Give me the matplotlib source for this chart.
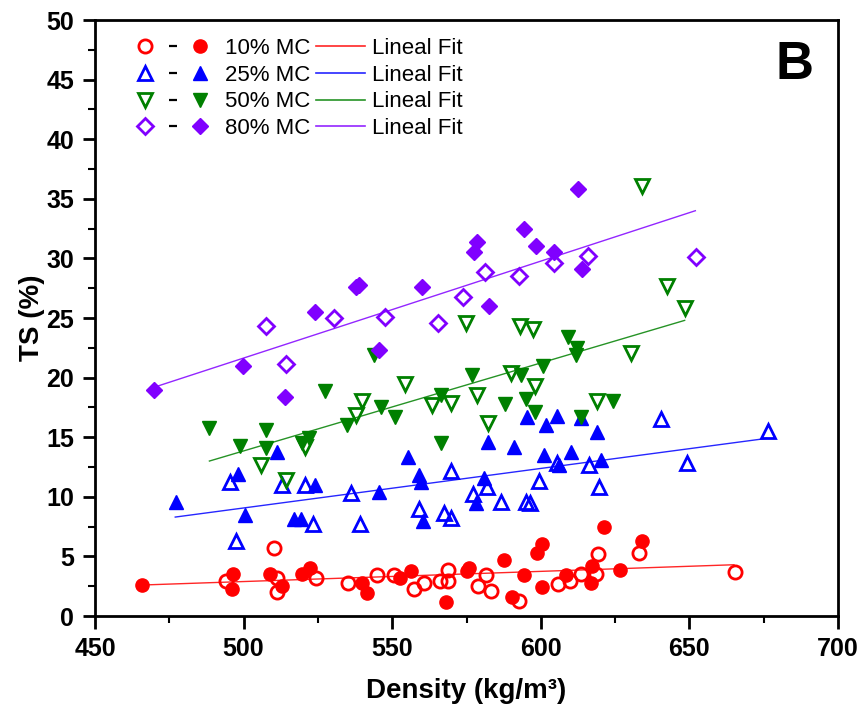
import matplotlib
matplotlib.use('Agg')
import matplotlib.pyplot as plt
from matplotlib.lines import Line2D
from matplotlib.legend_handler import HandlerTuple
from matplotlib.ticker import MultipleLocator

plt.rcParams['font.family'] = ['Liberation Sans', 'DejaVu Sans']

# 10% MC
mc10_open_d = [494.2, 510.1, 511.1, 511.1, 524.2, 535.0, 544.8, 550.5, 557.3, 560.7, 566.1, 568.8,
               568.8, 578.9, 581.6, 583.3, 592.7, 605.9, 609.9, 613.6, 618.7, 619.4, 632.9, 665.2]
mc10_open_ts = [2.9, 5.7, 3.2, 2.0, 3.2, 2.8, 3.4, 3.4, 2.3, 2.8, 2.9, 3.9,
                2.9, 2.5, 3.4, 2.1, 1.3, 2.7, 2.9, 3.5, 3.5, 5.2, 5.3, 3.7]
mc10_fill_d = [465.9, 496.6, 496.2, 509.0, 512.8, 519.5, 522.2, 539.7, 541.4, 552.6, 556.3, 568.1, 575.2,
               575.8, 587.6, 590.3, 594.4, 598.8, 600.5, 600.5, 608.6, 617.3, 617.0, 621.4, 626.8, 634.2]
mc10_fill_ts = [2.6, 3.5, 2.3, 3.5, 2.5, 3.5, 4.0, 2.8, 1.9, 3.2, 3.8, 1.2, 3.8,
                4.0, 4.7, 1.6, 3.4, 5.3, 6.0, 2.4, 3.4, 4.2, 2.8, 7.5, 3.9, 6.3]
mc10_fit_d = [466, 665]
mc10_fit_ts = [2.6, 4.3]

# 25% MC
mc25_open_d = [495.5, 497.6, 512.8, 520.8, 523.2, 536.0, 539.1, 559.0, 567.4, 569.8, 569.8, 577.2,
               581.9, 586.6, 595.1, 596.4, 599.5, 605.5, 616.3, 619.7, 640.3, 649.1, 676.4]
mc25_open_ts = [11.2, 6.3, 11.0, 11.0, 7.7, 10.3, 7.7, 9.0, 8.6, 8.2, 12.2, 10.2,
                10.8, 9.6, 9.6, 9.5, 11.3, 12.8, 12.7, 10.8, 16.5, 12.8, 15.5]
mc25_fill_d = [477.3, 498.2, 500.6, 511.1, 516.8, 519.2, 523.9, 545.5, 555.3, 559.0, 559.7, 560.3, 578.2,
               580.9, 582.3, 591.0, 595.4, 601.1, 601.8, 605.5, 606.2, 610.3, 613.6, 619.0, 620.4]
mc25_fill_ts = [9.6, 11.9, 8.5, 13.8, 8.1, 8.1, 11.0, 10.4, 13.3, 11.8, 11.2, 8.0, 9.5,
                11.6, 14.6, 14.2, 16.7, 13.5, 16.0, 16.8, 12.7, 13.8, 16.6, 15.4, 13.1]
mc25_fit_d = [477, 676]
mc25_fit_ts = [8.3, 14.9]

# 50% MC
mc50_open_d = [506.0, 514.4, 520.5, 537.7, 539.7, 554.2, 563.4, 569.8, 574.8, 578.5, 582.3, 590.0,
               593.0, 597.4, 598.1, 619.0, 630.5, 633.9, 642.6, 648.4]
mc50_open_ts = [12.7, 11.4, 14.2, 16.9, 18.0, 19.5, 17.7, 17.9, 24.6, 18.5, 16.2, 20.4,
                24.3, 24.1, 19.3, 18.0, 22.1, 36.1, 27.7, 25.8]
mc50_fill_d = [488.5, 498.9, 507.4, 507.4, 519.5, 521.9, 527.3, 534.7, 543.8, 546.2, 550.9, 566.4,
               566.4, 576.9, 588.0, 593.4, 595.1, 598.1, 600.8, 609.2, 611.9, 612.3, 613.6, 624.4]
mc50_fill_ts = [15.8, 14.3, 15.6, 14.1, 14.5, 14.9, 18.9, 16.0, 21.9, 17.5, 16.7, 18.5,
                14.5, 20.2, 17.8, 20.2, 18.2, 17.1, 21.0, 23.4, 21.9, 22.5, 16.7, 18.0]
mc50_fit_d = [488.5, 648.4]
mc50_fit_ts = [13.0, 24.8]

# 80% MC
mc80_open_d = [507.4, 514.1, 530.3, 547.5, 565.4, 573.8, 581.2, 592.7, 604.5, 616.0, 652.1]
mc80_open_ts = [24.3, 21.1, 25.0, 25.1, 24.6, 26.8, 28.9, 28.5, 29.6, 30.2, 30.1]
mc80_fill_d = [469.9, 499.9, 513.8, 523.9, 537.7, 538.8, 545.5, 560.0, 577.5, 578.5, 582.6,
               594.4, 598.4, 604.5, 612.6, 614.0]
mc80_fill_ts = [19.0, 21.0, 18.4, 25.5, 27.6, 27.8, 22.3, 27.6, 30.5, 31.4, 26.0,
                32.5, 31.0, 30.5, 35.8, 29.1]
mc80_fit_d = [470, 652]
mc80_fit_ts = [19.2, 34.0]

labels = ['10% MC', '25% MC', '50% MC', '80% MC']

series = [
    (mc10_open_d, mc10_open_ts, mc10_fill_d, mc10_fill_ts, mc10_fit_d, mc10_fit_ts, '#ff0000', 'o', 9.5),
    (mc25_open_d, mc25_open_ts, mc25_fill_d, mc25_fill_ts, mc25_fit_d, mc25_fit_ts, '#0000ff', '^', 10),
    (mc50_open_d, mc50_open_ts, mc50_fill_d, mc50_fill_ts, mc50_fit_d, mc50_fit_ts, '#008000', 'v', 10),
    (mc80_open_d, mc80_open_ts, mc80_fill_d, mc80_fill_ts, mc80_fit_d, mc80_fit_ts, '#8000ff', 'D', 8),
]

fig = plt.figure(figsize=(8.61, 7.15), dpi=100)
ax = fig.add_axes([95 / 861, 1 - 616 / 715, 743 / 861, 596 / 715])

h_marks = []
h_fits = []
for od, ots, fd, fts, xd, xts, c, m, ms in series:
    ax.plot(xd, xts, '-', color=c, lw=1.0, alpha=0.85)
    o, = ax.plot(od, ots, ls='none', marker=m, ms=ms, mfc='none', mec=c, mew=2)
    f, = ax.plot(fd, fts, ls='none', marker=m, ms=ms, mfc=c, mec=c, mew=1)
    dash = Line2D([], [], ls='none', marker='_', ms=6, mew=1.6, color='black')
    h_marks.append((o, dash, f))
    h_fits.append(Line2D([], [], color=c, lw=1.2, alpha=0.85))

ax.set_xlim(450, 700)
ax.set_ylim(0, 50)
ax.xaxis.set_major_locator(MultipleLocator(50))
ax.xaxis.set_minor_locator(MultipleLocator(25))
ax.yaxis.set_major_locator(MultipleLocator(5))
ax.yaxis.set_minor_locator(MultipleLocator(2.5))
ax.tick_params(which='major', direction='out', length=9, width=2, labelsize=18, pad=6)
ax.tick_params(which='minor', direction='out', length=5, width=1.5)
for lab in ax.get_xticklabels() + ax.get_yticklabels():
    lab.set_fontweight('bold')
for sp in ax.spines.values():
    sp.set_linewidth(2)

ax.set_xlabel('Density (kg/m³)', fontsize=20, fontweight='bold', labelpad=12)
ax.set_ylabel('TS (%)', fontsize=20, fontweight='bold', labelpad=1)

leg1 = ax.legend(h_marks, labels, loc='upper left', bbox_to_anchor=(0.0505, 0.970), frameon=False,
                 fontsize=16, handler_map={tuple: HandlerTuple(ndivide=None, pad=0.11)},
                 handlelength=3.6, handletextpad=0.56, labelspacing=0.26,
                 borderpad=0, borderaxespad=0)
ax.add_artist(leg1)
ax.legend(h_fits, ['Lineal Fit'] * 4, loc='upper left', bbox_to_anchor=(0.297, 0.970), frameon=False,
          fontsize=16, handlelength=2.2, handletextpad=0.32, labelspacing=0.26,
          borderpad=0, borderaxespad=0)

ax.text(0.942, 0.924, 'B', transform=ax.transAxes, fontsize=38, fontweight='bold',
        ha='center', va='center')

fig.savefig('out.png', dpi=100)
